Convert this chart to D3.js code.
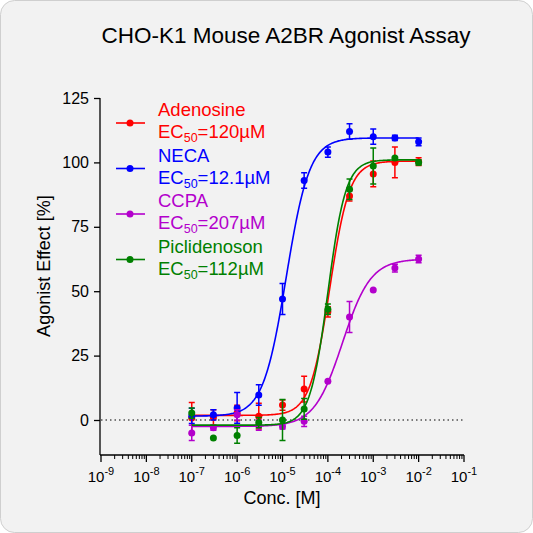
<!DOCTYPE html>
<html><head><meta charset="utf-8">
<script src="https://cdn.jsdelivr.net/npm/d3@7"></script>
<style>body{margin:0;background:#fff}svg{font-family:Arial,"Liberation Sans",sans-serif}</style>
</head><body>
<svg id="c" width="533" height="533"></svg>
<script>
var conc = [1e-7,3e-7,1e-6,3e-6,1e-5,3e-5,1e-4,3e-4,1e-3,3e-3,1e-2];
var adenosine = [0.8,1,2.7,1.5,5.8,12,42,87,95.5,100,100.3];
var adenosineErr = [6,3,3,5,2,5,2,2,5,6,1.5];
var neca = [1.6,2,4.7,9.7,47,93,104,112,110,109.5,108];
var necaErr = [3,2,6,4,6,3,2,3,3,1,1.5];
var ccpa = [-5,-3,2,-2,-2.5,-0.5,15,40,50.5,59,62.5];
var ccpaErr = [3,1,2,2,1,2,0,6,0,1.5,1.5];
var pic = [2.7,-7,-6,-1,0,4.3,43,89.6,98.6,101.7,100];
var picErr = [2,0,3,2,8,4,2,4,7,0,1];
var series = [
  {name:"Adenosine", ec:"120\u00b5M", color:"#ff0000", y:adenosine, e:adenosineErr, fit:[1.8,100.5,1.1e-4,2.0]},
  {name:"NECA", ec:"12.1\u00b5M", color:"#0000ff", y:neca, e:necaErr, fit:[1.5,109.5,1.21e-5,1.7]},
  {name:"CCPA", ec:"207\u00b5M", color:"#b300cc", y:ccpa, e:ccpaErr, fit:[-2.5,62.5,2.1e-4,1.4]},
  {name:"Piclidenoson", ec:"112\u00b5M", color:"#008000", y:pic, e:picErr, fit:[-2,101,1.0e-4,2.2]}
];
var yTicks = [0,25,50,75,100,125];
var xTicks = d3.range(-9,0);

var svg = d3.select("#c");
svg.append("rect").attr("x",0.5).attr("y",0.5).attr("width",532).attr("height",532)
  .attr("rx",14).attr("fill","#f2f2f2").attr("stroke","#cfcfcf");
svg.append("text").attr("x",286).attr("y",43).attr("text-anchor","middle")
  .attr("font-size",22.5).text("CHO-K1 Mouse A2BR Agonist Assay");

var x = d3.scaleLog().domain([1e-9,1e-1]).range([101,464]);
var y = d3.scaleLinear().domain([0,125]).range([420,98]);

// y axis
var ya = svg.append("g").attr("transform","translate(100,0)")
  .call(d3.axisLeft(y).tickValues(yTicks).tickSize(6).tickPadding(5));
ya.select(".domain").attr("d","M0,98V455").attr("stroke-width",1.3);
ya.selectAll("text").attr("font-size",16).attr("fill","#000");
ya.selectAll("line").attr("stroke-width",1.3);

// x axis
var xa = svg.append("g").attr("transform","translate(0,455)");
xa.append("line").attr("x1",100).attr("x2",464).attr("stroke","#000").attr("stroke-width",1.3);
xTicks.forEach(function(p){
  xa.append("line").attr("x1",x(Math.pow(10,p))).attr("x2",x(Math.pow(10,p)))
    .attr("y2",7).attr("stroke","#000").attr("stroke-width",1.3);
  if (p < -1) d3.range(2,10).forEach(function(m){
    var v = x(m*Math.pow(10,p));
    xa.append("line").attr("x1",v).attr("x2",v).attr("y2",4).attr("stroke","#000");
  });
  var t = xa.append("text").attr("x",x(Math.pow(10,p))).attr("y",27)
    .attr("text-anchor","middle").attr("font-size",15);
  t.append("tspan").text("10");
  t.append("tspan").attr("dy",-7).attr("font-size",11).text(p);
});
svg.append("text").attr("x",282).attr("y",504).attr("text-anchor","middle")
  .attr("font-size",18).text("Conc. [M]");
svg.append("text").attr("transform","translate(50,266)rotate(-90)").attr("text-anchor","middle")
  .attr("font-size",18).text("Agonist Effect [%]");

// zero line
svg.append("line").attr("x1",101).attr("x2",464).attr("y1",y(0)).attr("y2",y(0))
  .attr("stroke","#000").attr("stroke-dasharray","1.5,3");

var curveX = d3.range(-7,-1.99,0.02).map(function(l){return Math.pow(10,l);});
function fourPL(f,c){ return f[0] + (f[1]-f[0])/(1+Math.pow(f[2]/c,f[3])); }
var line = d3.line().x(function(d){return x(d[0]);}).y(function(d){return y(d[1]);});

series.forEach(function(s){
  var g = svg.append("g");
  g.append("path").attr("d",line(curveX.map(function(c){return [c,fourPL(s.fit,c)];})))
    .attr("fill","none").attr("stroke",s.color).attr("stroke-width",1.6);
  conc.forEach(function(c,i){
    var cx = x(c), e = s.e[i];
    if (e > 0) {
      g.append("path").attr("d","M"+cx+","+y(s.y[i]-e)+"V"+y(s.y[i]+e)+
        "M"+(cx-3)+","+y(s.y[i]-e)+"h6M"+(cx-3)+","+y(s.y[i]+e)+"h6")
        .attr("stroke",s.color).attr("stroke-width",1.5).attr("fill","none");
    }
    g.append("circle").attr("cx",cx).attr("cy",y(s.y[i])).attr("r",3.5).attr("fill",s.color);
  });
});

// legend
series.forEach(function(s,i){
  var ly = 110 + i*45.5;
  svg.append("line").attr("x1",116).attr("x2",145).attr("y1",ly+13).attr("y2",ly+13)
    .attr("stroke",s.color).attr("stroke-width",1.6);
  svg.append("circle").attr("cx",130).attr("cy",ly+13).attr("r",3.5).attr("fill",s.color);
  svg.append("text").attr("x",158).attr("y",ly+6).attr("font-size",18.5).attr("fill",s.color).text(s.name);
  var t = svg.append("text").attr("x",158).attr("y",ly+28).attr("font-size",18.5).attr("fill",s.color);
  t.append("tspan").text("EC");
  t.append("tspan").attr("dy",4).attr("font-size",12.5).text("50");
  t.append("tspan").attr("dy",-4).text("=" + s.ec);
});
</script>
</body></html>
